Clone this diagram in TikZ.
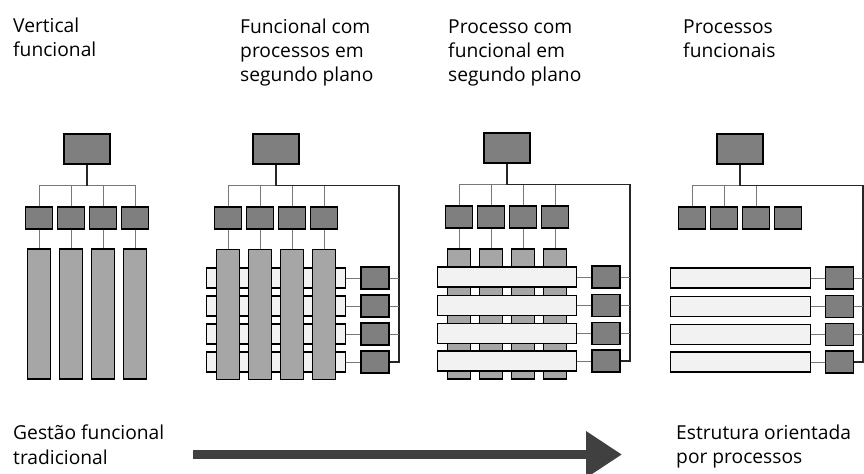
\documentclass[tikz,border=0pt]{standalone}
\usepackage{fontspec}
\setmainfont{Open Sans}
\usepackage{tikz}
\usetikzlibrary{arrows.meta}
\definecolor{BoxDark}{RGB}{127,127,127}
\definecolor{BarGray}{RGB}{166,166,166}
\definecolor{LaneGray}{RGB}{242,242,242}
\definecolor{LinkGray}{RGB}{120,120,120}
\definecolor{ArrowGray}{RGB}{64,64,64}
\tikzset{
  chief/.style={draw=black,fill=BoxDark,line width=1pt,inner sep=0pt,
    minimum width=1.38cm,minimum height=0.9cm},
  dept/.style={draw=black,fill=BoxDark,line width=1pt,inner sep=0pt,
    minimum width=0.81cm,minimum height=0.66cm},
  owner/.style={draw=black,fill=BoxDark,line width=1pt,inner sep=0pt,
    minimum width=0.84cm,minimum height=0.66cm},
  column/.style={draw=black,fill=BarGray,line width=0.9pt,inner sep=0pt,
    minimum width=0.69cm,minimum height=3.9cm},
  lane/.style={draw=black,fill=LaneGray,line width=0.9pt,inner sep=0pt,
    minimum width=4.19cm,minimum height=0.6cm},
  link/.style={draw=LinkGray,line width=0.7pt},
  trunk/.style={draw=black!85,line width=0.9pt},
  caption/.style={font=\fontsize{16.4}{20.5}\selectfont,align=left,
    anchor=base west,inner sep=0pt},
}

\begin{document}
\begin{tikzpicture}[x=0.03cm,y=-0.03cm]
  \useasboundingbox (0,0) rectangle (864,473);

  % vertical funcional
  \begin{scope}[shift={(87,0)}]
    \node[chief] (a-top) at (0,149) {};
    \coordinate (a-bus) at (0,185.5);
    \foreach \i/\dx in {1/-48,2/-16,3/16,4/48}{
      \node[dept] (a-d\i) at (\dx,218) {};
      \node[column] (a-c\i) at (\dx,314) {};
      \draw[link] (a-d\i) -- (a-c\i);
      \draw[link] (a-d\i.north) |- (a-bus);
    }
    \draw[trunk] (a-top) -- (a-bus);
  \end{scope}

  % funcional com processos em segundo plano
  \begin{scope}[shift={(276,0)}]
    \node[chief] (b-top) at (0,149) {};
    \coordinate (b-bus) at (0,185.5);
    \coordinate (b-corner) at (123,185.5);
    \coordinate (b-foot) at (123,362);
    \foreach \r/\y in {1/278,2/306,3/334,4/362}{
      \node[lane] (b-l\r) at (0,\y) {};
      \node[owner] (b-o\r) at (99,\y) {};
      \draw[link] (b-l\r) -- (b-o\r);
    }
    \foreach \i/\dx in {1/-48,2/-16,3/16,4/48}{
      \node[dept] (b-d\i) at (\dx,218) {};
      \node[column] (b-c\i) at (\dx,314.5) {};
      \draw[link] (b-d\i) -- (b-c\i);
      \draw[link] (b-d\i.north) |- (b-bus);
    }
    \draw[trunk] (b-top) -- (b-bus) -- (b-corner) -- (b-foot) -- (b-o4);
    \foreach \r in {1,2,3} \draw[link] (b-o\r) -- (b-o\r -| b-foot);
  \end{scope}

  % processo com funcional em segundo plano
  \begin{scope}[shift={(507,0)}]
    \node[chief] (c-top) at (0,148) {};
    \coordinate (c-bus) at (0,184.5);
    \coordinate (c-corner) at (123,184.5);
    \coordinate (c-foot) at (123,361);
    \foreach \i/\dx in {1/-48,2/-16,3/16,4/48}{
      \node[dept] (c-d\i) at (\dx,217) {};
      \node[column] (c-c\i) at (\dx,314) {};
      \draw[link] (c-d\i) -- (c-c\i);
      \draw[link] (c-d\i.north) |- (c-bus);
    }
    \foreach \r/\y in {1/277,2/305.5,3/333.5,4/361}{
      \node[lane] (c-l\r) at (0,\y) {};
      \node[owner] (c-o\r) at (99,\y) {};
      \draw[link] (c-l\r) -- (c-o\r);
    }
    \draw[trunk] (c-top) -- (c-bus) -- (c-corner) -- (c-foot) -- (c-o4);
    \foreach \r in {1,2,3} \draw[link] (c-o\r) -- (c-o\r -| c-foot);
  \end{scope}

  % processos funcionais
  \begin{scope}[shift={(740,0)}]
    \node[chief] (d-top) at (0,149) {};
    \coordinate (d-bus) at (0,185.5);
    \coordinate (d-corner) at (123,185.5);
    \coordinate (d-foot) at (123,362);
    \foreach \i/\dx in {1/-48,2/-16,3/16,4/48}
      \node[dept] (d-d\i) at (\dx,218) {};
    \foreach \i in {1,2,3} \draw[link] (d-d\i.north) |- (d-bus);
    \foreach \r/\y in {1/278,2/306.5,3/334.5,4/362}{
      \node[lane] (d-l\r) at (0.5,\y) {};
      \node[owner] (d-o\r) at (99.5,\y) {};
      \draw[link] (d-l\r) -- (d-o\r);
    }
    \draw[trunk] (d-top) -- (d-bus) -- (d-corner) -- (d-foot) -- (d-o4);
    \foreach \r in {1,2,3} \draw[link] (d-o\r) -- (d-o\r -| d-foot);
  \end{scope}

  % titles (base = last line)
  \node[caption] (t-a) at (13,56.7) {Vertical\\funcional};
  \node[caption] (t-b) at (240,81.7) {Funcional com\\processos em\\segundo plano};
  \node[caption] (t-c) at (448,81.7) {Processo com\\funcional em\\segundo plano};
  \node[caption] (t-d) at (683,57.3) {Processos\\funcionais};

  % evolution arrow
  \node[caption] (from) at (13,464) {Gestão funcional\\tradicional};
  \node[caption] (to) at (676,463.5) {Estrutura orientada\\por processos};
  \coordinate (arrow-start) at (193,454.5);
  \coordinate (arrow-end) at (622,454.5);
  \draw[ArrowGray,line width=0.285cm,
    -{Triangle[length=1.08cm,width=1.33cm]}] (arrow-start) -- (arrow-end);
\end{tikzpicture}
\end{document}
